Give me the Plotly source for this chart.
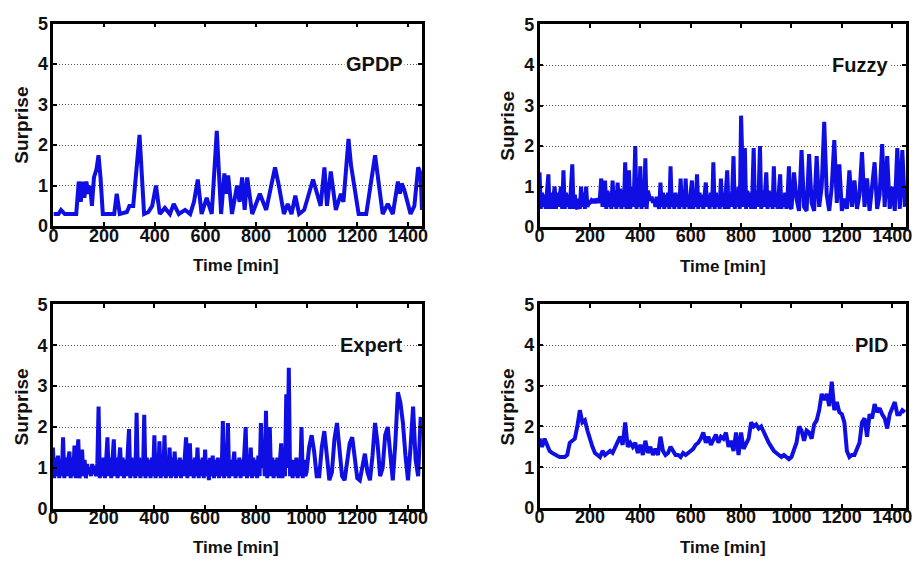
import plotly.graph_objects as go

# ---------------- data ----------------
titles = ["GPDP", "Fuzzy", "Expert", "PID"]
ylabels = ["Surprise", "Suprise", "Surprise", "Surprise"]
xlabel = "Time [min]"
x_ticks = [0, 200, 400, 600, 800, 1000, 1200, 1400]
y_ticks = [0, 1, 2, 3, 4, 5]

gpdp_t = [0, 20, 30, 45, 90, 100, 108, 115, 122, 130, 138, 145, 152, 160, 170, 178, 186, 195, 240, 250, 262, 290, 300, 315,
          340, 358, 375, 390, 405, 420, 440, 460, 475, 495, 520, 540, 555, 570, 585, 605, 625, 645, 662, 675, 683, 690, 705,
          725, 735, 745, 755, 765, 785, 805, 815, 840, 860, 875, 890, 910, 925, 940, 955, 970, 990, 1025, 1055, 1070,
          1080, 1095, 1115, 1135, 1145, 1165, 1175, 1205, 1235, 1270, 1300, 1320, 1340, 1360, 1368, 1375, 1385, 1410,
          1425, 1440, 1450, 1455]
gpdp_v = [0.3, 0.3, 0.4, 0.3, 0.3, 1.1, 0.6, 1.1, 0.7, 1.1, 0.8, 1.0, 0.5, 1.2, 1.4, 1.75, 1.2, 0.3, 0.3, 0.8, 0.3, 0.35, 0.5, 0.5,
          2.25, 0.3, 0.35, 0.5, 1.0, 0.3, 0.45, 0.3, 0.55, 0.3, 0.4, 0.3, 0.6, 1.15, 0.3, 0.7, 0.3, 2.35, 0.3, 1.3, 0.8, 1.25, 0.3,
          1.0, 0.6, 1.2, 0.4, 1.2, 0.3, 0.6, 0.8, 0.4, 1.0, 1.45, 1.0, 0.3, 0.55, 0.3, 0.75, 0.3, 0.4, 1.15, 0.5, 1.45,
          0.5, 1.35, 0.4, 0.8, 0.6, 2.15, 1.5, 0.3, 0.3, 1.75, 0.3, 0.55, 0.3, 1.1, 0.8, 1.05, 0.9, 0.3,
          0.5, 1.45, 1.3, 0.4]

# dense sampling (5 min) up to 1000 min, then 10 min
dense_t = list(range(0, 1001, 5)) + list(range(1010, 1451, 10))
step_t = list(range(0, 1451, 10))

fuzzy_v = [1.35, 0.45, 0.85, 0.5, 0.8, 0.45, 0.9, 1.3, 0.45, 0.85,
           0.45, 0.8, 1.0, 0.45, 0.85, 0.5, 0.9, 1.0, 0.45, 1.4,
           0.45, 0.85, 0.5, 0.8, 0.45, 0.9, 1.55, 0.45, 0.8, 0.5,
           0.45, 0.7, 0.45, 1.0, 0.5, 0.85, 0.45, 1.0, 0.5, 0.6,
           0.6, 0.65, 0.6, 0.7, 0.6, 0.65, 0.7, 0.6, 0.75, 1.2,
           0.5, 0.9, 1.15, 0.45, 0.9, 0.5, 0.85, 0.45, 1.15, 0.5,
           0.9, 0.45, 1.1, 0.5, 0.95, 0.45, 0.9, 0.5, 1.6, 0.45,
           1.0, 1.4, 0.45, 1.0, 0.5, 0.9, 2.0, 0.45, 1.0, 0.5,
           1.5, 0.45, 1.0, 0.5, 1.7, 0.45, 0.9, 0.7, 0.65, 0.75,
           0.6, 0.7, 0.5, 0.75, 0.6, 0.45, 1.1, 0.5, 0.85, 0.45,
           0.8, 0.5, 0.85, 0.45, 1.5, 0.5, 0.8, 0.45, 0.85, 0.5,
           0.8, 0.45, 1.2, 0.5, 0.85, 0.45, 1.2, 0.5, 0.8, 0.45,
           0.85, 1.15, 0.45, 0.8, 0.5, 1.3, 0.45, 0.85, 0.5, 0.8,
           0.45, 0.85, 1.1, 0.5, 0.8, 0.45, 0.85, 0.5, 1.6, 0.45,
           0.85, 0.5, 0.8, 0.45, 1.2, 0.5, 0.85, 0.45, 0.9, 1.4,
           0.45, 0.85, 0.5, 0.9, 1.75, 0.45, 0.85, 0.5, 1.0, 0.45,
           2.75, 1.2, 0.5, 1.95, 0.45, 0.9, 0.5, 0.85, 0.45, 0.9,
           1.95, 0.45, 0.9, 0.5, 0.85, 2.0, 0.45, 0.9, 0.5, 0.85,
           1.35, 0.45, 0.9, 0.5, 0.85, 0.45, 1.5, 0.5, 0.85, 0.45,
           0.9, 1.3, 0.45, 0.8, 0.5, 0.85, 0.45, 0.8, 1.5, 0.5,
           0.45,
           1.35, 0.7, 0.4, 1.9, 0.5, 0.4, 1.8, 0.6, 0.4,
           1.75, 0.5, 1.0, 2.6, 0.8, 0.4, 1.0, 2.15, 0.6, 1.55,
           0.4, 0.7, 0.45, 1.4, 0.5, 1.15, 0.45, 0.8, 1.85, 0.5,
           1.2, 0.4, 1.0, 1.6, 0.45, 0.8, 2.05, 0.5, 1.75, 0.45,
           1.0, 0.4, 1.95, 0.45, 1.9, 0.5]

expert_v = [1.5, 0.75, 1.25, 0.8, 1.3, 0.75, 1.2, 0.8, 1.75, 0.75,
            1.25, 0.8, 1.2, 1.4, 0.75, 1.25, 0.8, 1.55, 0.75, 1.2,
            1.7, 0.75, 1.2, 1.45, 0.8, 1.2, 0.75, 1.1, 0.85, 1.0,
            0.8, 1.1, 0.85, 1.05, 0.8, 1.1, 2.5, 0.75, 1.2, 0.8,
            1.25, 0.75, 1.2, 1.75, 0.8, 1.25, 0.75, 1.2, 1.7, 0.8,
            1.25, 0.75, 1.2, 1.5, 0.8, 1.25, 0.75, 1.2, 0.8, 1.3,
            1.95, 0.75, 1.25, 0.8, 1.2, 0.75, 2.35, 0.8, 1.25, 0.75,
            1.2, 0.8, 2.3, 0.75, 1.25, 0.8, 1.2, 0.75, 1.25, 0.8,
            1.8, 0.75, 1.2, 0.8, 1.65, 0.75, 1.25, 0.8, 1.8, 0.75,
            1.2, 0.8, 1.5, 0.75, 1.25, 0.8, 1.4, 0.75, 1.2, 0.8,
            1.25, 0.75, 1.2, 0.8, 1.25, 1.75, 0.75, 1.2, 1.6, 0.8,
            1.2, 0.75, 1.25, 0.8, 1.5, 0.75, 1.2, 0.8, 1.25, 0.75,
            1.45, 0.8, 1.2, 0.7, 1.25, 0.8, 1.3, 0.75, 1.2, 0.8,
            1.25, 0.75, 1.2, 0.8, 2.15, 0.75, 1.25, 0.8, 2.1, 0.75,
            1.2, 0.8, 1.25, 1.4, 0.75, 1.2, 0.8, 1.25, 0.75, 1.2,
            0.8, 1.25, 2.0, 0.75, 1.2, 0.8, 1.5, 0.75, 1.25, 0.8,
            1.2, 0.75, 1.3, 0.8, 2.1, 1.0, 1.6, 0.8, 2.4, 0.75,
            1.3, 2.0, 0.8, 1.25, 0.75, 1.2, 0.8, 1.25, 0.75, 1.2,
            1.6, 0.75, 1.2, 0.8, 2.8, 1.0, 3.45, 0.8, 1.2, 0.75,
            1.2, 0.8, 1.25, 0.75, 1.2, 0.8, 2.0, 0.75, 1.2, 0.8,
            0.9,
            1.5, 1.8, 1.4, 0.8, 0.8, 1.5, 1.9, 1.3, 0.7,
            0.9, 1.7, 2.1, 1.5, 0.8, 0.7, 1.1, 1.6, 1.75, 1.3,
            0.75, 0.7, 1.1, 1.35, 0.9, 0.7, 1.3, 2.1, 1.6, 0.8,
            1.0, 1.8, 2.0, 1.2, 0.7, 1.6, 2.85, 2.6, 2.1, 1.3,
            0.7, 1.5, 2.5, 1.2, 0.8, 2.25]

pid_v = [1.7, 1.5, 1.7, 1.55, 1.4, 1.35, 1.3, 1.28, 1.25, 1.25,
         1.25, 1.3, 1.6, 1.65, 1.7, 2.0, 2.4, 2.1, 2.15, 1.9,
         1.65, 1.5, 1.35, 1.3, 1.25, 1.4, 1.3, 1.35, 1.4, 1.35,
         1.5, 1.6, 1.75, 1.55, 2.1, 1.5, 1.6, 1.5, 1.6, 1.35,
         1.55, 1.3, 1.65, 1.35, 1.5, 1.3, 1.45, 1.3, 1.75, 1.4,
         1.3, 1.35, 1.5, 1.4, 1.3, 1.3, 1.25, 1.35, 1.3, 1.35,
         1.4, 1.45, 1.55, 1.6, 1.7, 1.85, 1.6, 1.75, 1.55, 1.7,
         1.8, 1.6, 1.75, 1.7, 1.85, 1.5, 1.65, 1.4, 1.85, 1.3,
         1.85, 1.45, 1.6, 1.7, 2.1, 2.0, 2.05, 1.95, 2.0, 1.85,
         1.7, 1.6, 1.5, 1.4, 1.35, 1.3, 1.25, 1.3, 1.25, 1.2,
         1.25, 1.4, 1.6, 2.0, 1.9, 1.65, 1.9, 1.85, 1.7, 2.05,
         2.15, 2.4, 2.8, 2.65, 2.8, 2.5, 3.1, 2.4, 2.6, 2.35,
         2.3, 2.1, 1.4, 1.25, 1.3, 1.3, 1.45, 1.6, 2.1, 2.2,
         1.75, 2.3, 2.2, 2.55, 2.35, 2.45, 2.3, 2.2, 1.95, 2.3,
         2.45, 2.6, 2.3, 2.3, 2.4, 2.35]

series_t = [gpdp_t, dense_t, dense_t, step_t]
series_v = [gpdp_v, fuzzy_v, expert_v, pid_v]

# ---------------- layout ----------------
W, H = 920, 571
boxes = [  # left, right, top, bottom in pixels
    (49, 422, 14, 224),
    (541, 912, 15, 225),
    (48.5, 422, 305, 517),
    (541, 912, 305, 516),
]
ytitle_pos = [(17, 119), (509, 120), (17, 411), (509, 411)]
xtitle_pos = [(234, 265), (727, 266), (234, 557), (727, 557)]

LINE = "rgb(15,15,228)"
FONT = "Liberation Sans, Arial, sans-serif"

fig = go.Figure()
layout = dict(width=W, height=H, autosize=False, margin=dict(l=0, r=0, t=0, b=0),
              paper_bgcolor="white", plot_bgcolor="white", showlegend=False,
              font=dict(family=FONT, color="black", size=17, weight="bold"))
annotations = []
for i in range(4):
    sfx = "" if i == 0 else str(i + 1)
    l, r, t, b = boxes[i]
    fig.add_trace(go.Scatter(x=series_t[i], y=series_v[i], mode="lines",
                             line=dict(color=LINE, width=4), xaxis="x" + sfx, yaxis="y" + sfx,
                             hoverinfo="skip"))
    layout["xaxis" + sfx] = dict(domain=[l / W, r / W], anchor="y" + sfx, range=[0, 1455],
                                 tickvals=x_ticks, ticktext=[str(v) for v in x_ticks],
                                 showline=True, linecolor="black", linewidth=2.5, mirror="ticks",
                                 ticks="inside", ticklen=4, tickwidth=2, tickcolor="black",
                                 showgrid=False, zeroline=False, ticklabelstandoff=-9,
                                 tickfont=dict(family=FONT, size=18, weight="bold", color="#111"))
    layout["yaxis" + sfx] = dict(domain=[1 - b / H, 1 - t / H], anchor="x" + sfx, range=[0, 5],
                                 tickvals=y_ticks, ticktext=[str(v) for v in y_ticks],
                                 showline=True, linecolor="black", linewidth=2.5, mirror="ticks",
                                 ticks="inside", ticklen=4, tickwidth=2, tickcolor="black",
                                 showgrid=True, gridcolor="#555", gridwidth=1, griddash="1px,2px",
                                 zeroline=False, ticklabelstandoff=-1,
                                 tickfont=dict(family=FONT, size=18, weight="bold", color="#111"))
    annotations.append(dict(x=1390, y=4, xref="x" + sfx, yref="y" + sfx, text=titles[i],
                            showarrow=False, xanchor="right", yanchor="middle", bgcolor="white",
                            borderpad=1, font=dict(family=FONT, size=20, weight="bold", color="#111")))
    yx, yy = ytitle_pos[i]
    annotations.append(dict(x=yx / W, y=1 - yy / H, xref="paper", yref="paper", text=ylabels[i],
                            textangle=-90, showarrow=False, xanchor="center", yanchor="middle",
                            font=dict(family=FONT, size=19, weight="bold", color="#111")))
    xx, xy = xtitle_pos[i]
    annotations.append(dict(x=xx / W, y=1 - xy / H, xref="paper", yref="paper", text=xlabel,
                            showarrow=False, xanchor="center", yanchor="middle",
                            font=dict(family=FONT, size=17, weight="bold", color="#111")))
layout["annotations"] = annotations
fig.update_layout(**layout)
fig.write_html("out.html")
